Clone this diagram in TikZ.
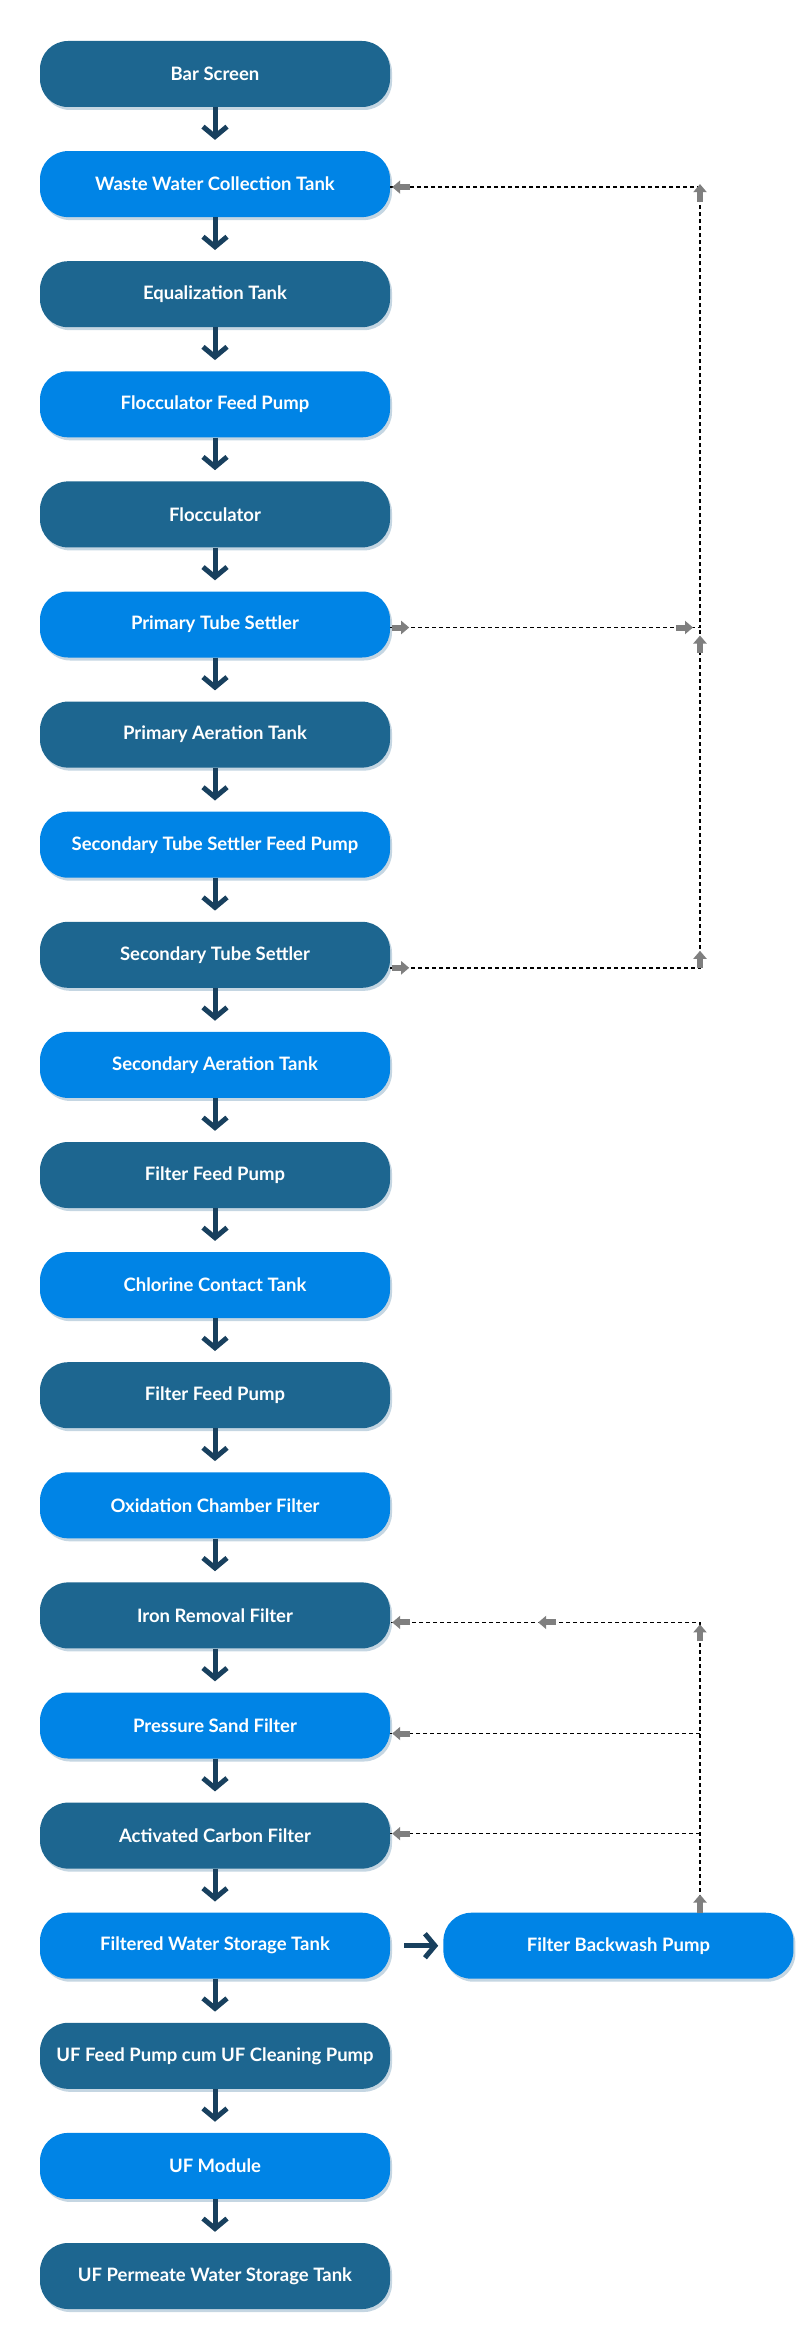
\documentclass[tikz,border=0pt]{standalone}
\usepackage{fontspec}
\setmainfont{Lato}
\usetikzlibrary{positioning}
\usetikzlibrary{arrows.meta}
\definecolor{darkstage}{HTML}{1D6690}
\definecolor{lightstage}{HTML}{0084E6}
\definecolor{flowcol}{HTML}{18405E}
\definecolor{shadecol}{HTML}{C5D6E2}
\definecolor{tipcol}{HTML}{7F7F7F}

\tikzset{
  stage/.style={rounded corners=28pt, minimum width=350pt, minimum height=66pt, inner sep=0pt,
    text=white, font=\bfseries\fontsize{18.5}{22}\selectfont,
    preaction={fill=shadecol, transform canvas={xshift=2pt,yshift=-3pt}}},
  dk/.style={stage, fill=darkstage},
  lt/.style={stage, fill=lightstage},
  flow/.style={draw=flowcol, line width=5pt, -{Straight Barb[length=10pt,width=24pt]}, shorten >=11pt},
  back/.style={draw=black, line width=1.4pt, dash pattern=on 4pt off 3pt},
  tip/.style={draw=tipcol, line width=6pt, -{Triangle[length=8pt,width=13pt]}}
}

\begin{document}
\begin{tikzpicture}
\useasboundingbox (0,0) rectangle (800pt,-2352pt);

\node [dk] (bar) at (215pt,-74pt) {Bar Screen};
\node [lt, below=43.7pt of bar] (wwct) {Waste Water Collection Tank};
\node [dk, below=43.7pt of wwct] (eqt) {Equalization Tank};
\node [lt, below=43.7pt of eqt] (ffp) {Flocculator Feed Pump};
\node [dk, below=43.7pt of ffp] (floc) {Flocculator};
\node [lt, below=43.7pt of floc] (pts) {Primary Tube Settler};
\node [dk, below=43.7pt of pts] (pat) {Primary Aeration Tank};
\node [lt, below=43.7pt of pat] (stsfp) {Secondary Tube Settler Feed Pump};
\node [dk, below=43.7pt of stsfp] (sts) {Secondary Tube Settler};
\node [lt, below=43.7pt of sts] (sat) {Secondary Aeration Tank};
\node [dk, below=43.7pt of sat] (ffpa) {Filter Feed Pump};
\node [lt, below=43.7pt of ffpa] (cct) {Chlorine Contact Tank};
\node [dk, below=43.7pt of cct] (ffpb) {Filter Feed Pump};
\node [lt, below=43.7pt of ffpb] (ocf) {Oxidation Chamber Filter};
\node [dk, below=43.7pt of ocf] (irf) {Iron Removal Filter};
\node [lt, below=43.7pt of irf] (psf) {Pressure Sand Filter};
\node [dk, below=43.7pt of psf] (acf) {Activated Carbon Filter};
\node [lt, below=43.7pt of acf] (fwst) {Filtered Water Storage Tank};
\node [dk, below=43.7pt of fwst] (ufp) {UF Feed Pump cum UF Cleaning Pump};
\node [lt, below=43.7pt of ufp] (ufm) {UF Module};
\node [dk, below=43.7pt of ufm] (ufst) {UF Permeate Water Storage Tank};
\node [lt, right=53pt of fwst] (fbp) {Filter Backwash Pump};

% main flow
\draw [flow] (bar) -- (wwct);
\draw [flow] (wwct) -- (eqt);
\draw [flow] (eqt) -- (ffp);
\draw [flow] (ffp) -- (floc);
\draw [flow] (floc) -- (pts);
\draw [flow] (pts) -- (pat);
\draw [flow] (pat) -- (stsfp);
\draw [flow] (stsfp) -- (sts);
\draw [flow] (sts) -- (sat);
\draw [flow] (sat) -- (ffpa);
\draw [flow] (ffpa) -- (cct);
\draw [flow] (cct) -- (ffpb);
\draw [flow] (ffpb) -- (ocf);
\draw [flow] (ocf) -- (irf);
\draw [flow] (irf) -- (psf);
\draw [flow] (psf) -- (acf);
\draw [flow] (acf) -- (fwst);
\draw [flow] (fwst) -- (ufp);
\draw [flow] (ufp) -- (ufm);
\draw [flow] (ufm) -- (ufst);
\draw [flow, shorten <=14pt, shorten >=5pt] (fwst) -- (fbp);

% sludge return
\coordinate (rail) at (700pt,0);
\coordinate (wwin) at ([yshift=-3pt]wwct.east);
\coordinate (ptsout) at ([yshift=-3pt]pts.east);
\coordinate (stsout) at ([yshift=-13pt]sts.east);
\draw [back] (ptsout) -- (ptsout -| rail) -- (wwin -| rail) -- (wwin);
\draw [back] (stsout) -- (stsout -| rail) -- (ptsout -| rail);
\draw [tip] ([xshift=20pt]wwin) -- ([xshift=2pt]wwin);
\draw [tip] ([yshift=-15pt]wwin -| rail) -- ([yshift=3pt]wwin -| rail);
\draw [tip] ([xshift=2pt]ptsout) -- ([xshift=19pt]ptsout);
\draw [tip] ([xshift=-24pt]ptsout -| rail) -- ([xshift=-7pt]ptsout -| rail);
\draw [tip] ([yshift=-25pt]ptsout -| rail) -- ([yshift=-8pt]ptsout -| rail);
\draw [tip] ([xshift=2pt]stsout) -- ([xshift=19pt]stsout);
\draw [tip] (stsout -| rail) -- ([yshift=17pt]stsout -| rail);

% backwash
\coordinate (irfin) at ([yshift=-7pt]irf.east);
\coordinate (psfin) at ([yshift=-8pt]psf.east);
\coordinate (acfin) at ([yshift=2pt]acf.east);
\draw [back] (rail |- fbp.north) -- (irfin -| rail) -- (irfin);
\draw [back] (psfin -| rail) -- (psfin);
\draw [back] (acfin -| rail) -- (acfin);
\draw [tip] ([xshift=20pt]irfin) -- ([xshift=2pt]irfin);
\draw [tip] ([xshift=166pt]irfin) -- ([xshift=148pt]irfin);
\draw [tip] ([yshift=-19pt]irfin -| rail) -- ([yshift=-2pt]irfin -| rail);
\draw [tip] ([xshift=20pt]psfin) -- ([xshift=2pt]psfin);
\draw [tip] ([xshift=20pt]acfin) -- ([xshift=2pt]acfin);
\draw [tip] (rail |- fbp.north) -- ([yshift=18pt]rail |- fbp.north);
\end{tikzpicture}
\end{document}
